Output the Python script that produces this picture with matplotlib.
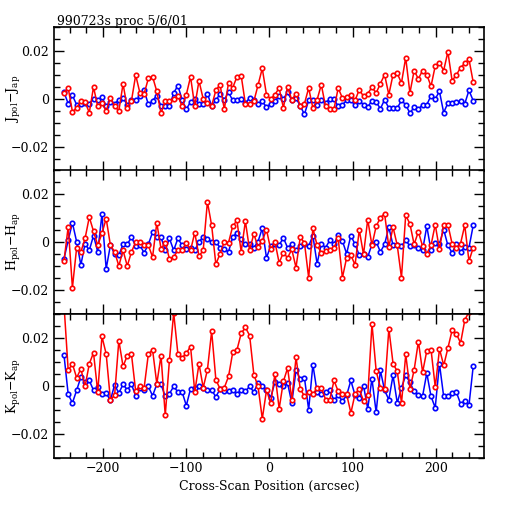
import numpy as np
import matplotlib
matplotlib.use("Agg")
import matplotlib.pyplot as plt
from matplotlib.ticker import MultipleLocator

# values in units of 1e-3 (mag), read left to right
j_blue = [2.8, -2.1, 1.4, -2.5, -2.4, -1.8, -2.1, 0, -0.7, 0.6, -3, -1.5, -2.2, -0.4, 0.3, -2.5, -0.7, -0.7,
          1, 3.5, -2.4, -0.8, 1.3, -3, -3.2, -3.2, 2.4, 5.5, -0.4, -4.4, -1.3, -0.1, -2.1, -2.4, 2.1, -3,
          -0.7, 2.1, -0.4, 2.7, -0.7, -0.7, -0.1, -1.8, 0.3, -0.4, -2.1,
          -1.1, -3.5, -2.1, -1.1, 1.3, -0.1, 2.7, -0.7, 0.3, -3, -6.5, -0.7, -0.4, -2.5, -0.4, -1.8, -0.1,
          -0.1, -3.2, -2.5, -0.7, -0.7, -2.7, -0.8, -2.5, -3.5, -0.8, -1.3, -4.2, -0.4, -3.9, -3.7, -3.9,
          -0.7, -2.5, -6, -3.5, -4.4, -2.5, -2.5, 1.3, -0.1, 3.1, -5.8, -1.8, -1.8, -1.4, -1.1, -2.1, 3.5, -0.8]
j_red = [2.4, 4.5, -5.4, -3.9, -0.8, -1.4, -5.8, 4.9, -3.2, -1.8, -5.1, 0.3, -3, -5.1, 6.2, -3.7, -0.8, 9.9,
         2.4, 2.1, 8.5, 9.2, 3.1, -6.1, -1.1, -1.1, -0.1, 1.3, -3.2, 1.7, 9.2, -3.2, 7.5, -0.1, -1.8, -3,
         3.5, 5.9, -4.4, 6.6, 4.6, 9.2, 9.7, -2.1, -2.1, -1.1, 5.7,
         12.7, 1.7, -0.1, 1.7, 4.5, -3.7, 4.8, -0.4, 2.1, -3, -2.1, 4.5, -3.9, -0.4, 5.9, -3.2, -4.4, -4.4,
         4.5, 0.3, 0.7, 1.7, -0.7, 3.8, 1, 2.1, 4.8, 2.4, 6.3, 10.1, 1.7, 10.1, 10.6, 6.6, 17.2, 2.4, 11.8,
         8.3, 11.8, 10.1, 5.2, 13.7, 15.1, 11.8, 19.6, 7.6, 9.9, 13, 14.8, 16.5, 7]
h_blue = [-7.1, 0.6, 7.9, 0, -9.7, -0.8, -3.6, 2.6, -4.2, 11.4, -11.3, -1.5, -5, -5.6, -1.1, -1.1, 1.9, -1.8,
          -1.5, -4.6, -1.1, 4, 1.9, 1.9, -3.6, 1.4, -3.6, 1.4, -1.5, -3.2, -2.5, -3.6, 0, 1.9, 1, 0, 0,
          -2.5, -3.2, -4.2, 1.9, 3.8, 1, -1.1, -1.1, -2.5, 0.1,
          5.6, -6.7, -1.8, -1.1, -1.5, 1.7, -2.5, -1.1, -3.6, -1.8, -0.8, -1.8, 2.6, -9.2, -0.8, -2.5, 0.6,
          -1.1, 2.8, 0.3, -5, 2.6, -1.1, -5.6, -5, -6.4, -1.1, 0, -4.2, -1.1, 6.1, -1.5, -1.5, -1.8, 0.6,
          -1.8, -1.5, -2.5, -3.6, 6.5, -3.6, -0.4, -0.8, 5.1, -1.5, -4.6, -1.1, -4.2, -2.2, -2.5, 6.8]
h_red = [-8.1, 6.3, -19.2, -2.5, -4.3, 1.4, 10.3, 4.4, -1.5, 3.5, 9.7, -1.4, -4.2, -10.1, -3.6, -10.1, -4.3,
         0, 0, -1.5, -1.5, -6.4, 7.9, -2.9, -0.4, -7.1, -6.4, -3.6, -3.6, -0.4, -3.6, 3.8, -6, -3.6, 16.7,
         6.9, -9.4, -5, 0, -0.4, 6.5, 8.9, -4.2, 8.6, -3.5, 3.3, -2.2,
         0.3, 5.1, -3.2, 0, -8.8, -4.6, -6.7, -3.2, -10.8, 1.9, -0.4, -15, 5.6, -1.5, -4.6, -3.9, -3.6,
         -2.5, 1.4, -15, -6.7, -5.6, -9.7, 5, -5.3, 9.3, -1.5, 6.5, 10, 11.8, -2.2, 6.1, -1.5, -15, 11.1,
         7.5, -1.1, 4.2, -1.8, -5, -1.5, 7.2, -3.2, 7.2, 7.2, -0.8, -2.8, -0.8, 6.9, -8.1, -2.5]
k_blue = [12.9, -3.6, -7.2, -1.9, 3.6, 1.5, 2.2, -1.9, -0.6, -3.3, -3.1, -6.1, 0.4, -3.1, 0.6, -1.7, 0.6,
          -4.2, -0.8, -1.9, -0.3, -4.2, 0.6, 0.6, -4.4, -3.3, -0.3, -2.6, -2.6, -8.3, -1.3, -0.8, 0, -0.8,
          -1.7, -1.7, -4.7, -1.3, -2.4, -2.2, -1.9, -3.3, -1.9, -2.4, -0.3, -2.6, 1.1,
          0.1, -1.7, -5, 1.5, 0.6, -0.3, 1.1, -7.2, 6.4, 2.9, 3.3, -10, 8.8, -2.6, -3.3, -2.6, -1.9, -6.1,
          -4, -6.4, -4, 2.2, -4, -5, 0.1, -9.6, 2.9, -11.1, 6.4, -1.9, -5.8, 4.3, -7.2, -0.8, 4.3, 1.5,
          -2.4, -4, -4.4, 5.3, -4.4, -9.2, 9.2, -4.4, -4.4, -3.1, -2.6, -7.5, -6.4, -8.2, 8.1]
k_red = [34, 6.4, 9.2, 3.3, 7.1, -0.3, 9.2, 13.8, -2.6, 20.6, 13.3, -5.8, -4, 18.9, 8.1, 12.6, 13.1, -2.4,
         0.1, -0.8, 13.3, 15, 0.8, 12.6, -12.4, 10.8, 30.5, 13.3, 11.7, 13.6, 16.4, -2.6, 9.2, -0.8, 6.7,
         22.8, 2.5, -1.3, -0.8, 3.9, 14, 15, 21.9, 24.4, 21, 4.7, -0.3,
         -13.8, -1.9, -7.2, 5, -9.6, 1.8, 7.4, -5.8, 11.9, -1.3, -4.4, -2.6, -3.6, -0.8, -0.8, -5.8, -5.8,
         2.2, -2.4, -3.3, -3.6, -11.4, -3.3, -1.5, -6.4, -4, 25.8, 6, -0.8, -1.3, 23.8, 9.2, 6, -7.2, 13.1,
         -1.3, 6.7, 18.5, 5.7, 14.7, 15, -0.6, 15.4, 8.5, 15.8, 23.3, 21.7, 17.9, 27.5, 31]

x_start = -247.0
x_end_full = 245.0
x_end_k_red = 240.0

panels = [
    (j_blue, j_red, x_end_full, r'J$_{\rm pol}$$-$J$_{\rm ap}$'),
    (h_blue, h_red, x_end_full, r'H$_{\rm pol}$$-$H$_{\rm ap}$'),
    (k_blue, k_red, x_end_k_red, r'K$_{\rm pol}$$-$K$_{\rm ap}$'),
]

plt.rcParams['font.family'] = 'DejaVu Serif'
plt.rcParams['mathtext.fontset'] = 'dejavuserif'

fig = plt.figure(figsize=(5.12, 5.12), dpi=100)
left, width = 54 / 512, 430 / 512
tops = [27, 170, 314]
h = 143.5 / 512

for i, (b, r, xe, lab) in enumerate(panels):
    bottom = 1 - (tops[i] / 512) - h
    ax = fig.add_axes([left, bottom, width, h])
    xb = np.linspace(x_start, x_end_full, len(b))
    xr = np.linspace(x_start, xe, len(r))
    ax.plot(xb, np.array(b) * 1e-3, color='#0000ff', lw=1.1, marker='o', ms=3.2,
            mfc='white', mec='#0000ff', mew=1.2)
    ax.plot(xr, np.array(r) * 1e-3, color='#ff0000', lw=1.1, marker='o', ms=3.2,
            mfc='white', mec='#ff0000', mew=1.2)
    ax.set_xlim(-259, 258)
    ax.set_ylim(-0.03, 0.03)
    ax.xaxis.set_major_locator(MultipleLocator(100))
    ax.xaxis.set_minor_locator(MultipleLocator(20))
    ax.yaxis.set_major_locator(MultipleLocator(0.02))
    ax.yaxis.set_minor_locator(MultipleLocator(0.005))
    ax.tick_params(which='both', direction='in', top=True, right=True, labelsize=9, width=1)
    ax.tick_params(which='major', length=7)
    ax.tick_params(which='minor', length=4)
    ax.set_yticks([-0.02, 0, 0.02])
    ax.set_yticklabels(['\u22120.02', '0', '0.02'])
    for s in ax.spines.values():
        s.set_linewidth(1.2)
    ax.set_ylabel(lab, fontsize=9)
    ax.yaxis.set_label_coords(-0.072, 0.5)
    if i < 2:
        ax.tick_params(labelbottom=False)
    else:
        ax.set_xticks([-200, -100, 0, 100, 200])
        ax.set_xticklabels(['\u2212200', '\u2212100', '0', '100', '200'])
        ax.set_xlabel('Cross-Scan Position (arcsec)', fontsize=9, labelpad=3)

fig.text(57 / 512, 1 - 25 / 512, '990723s proc 5/6/01', fontsize=9, ha='left', va='baseline')

fig.savefig('out.png', dpi=100)
